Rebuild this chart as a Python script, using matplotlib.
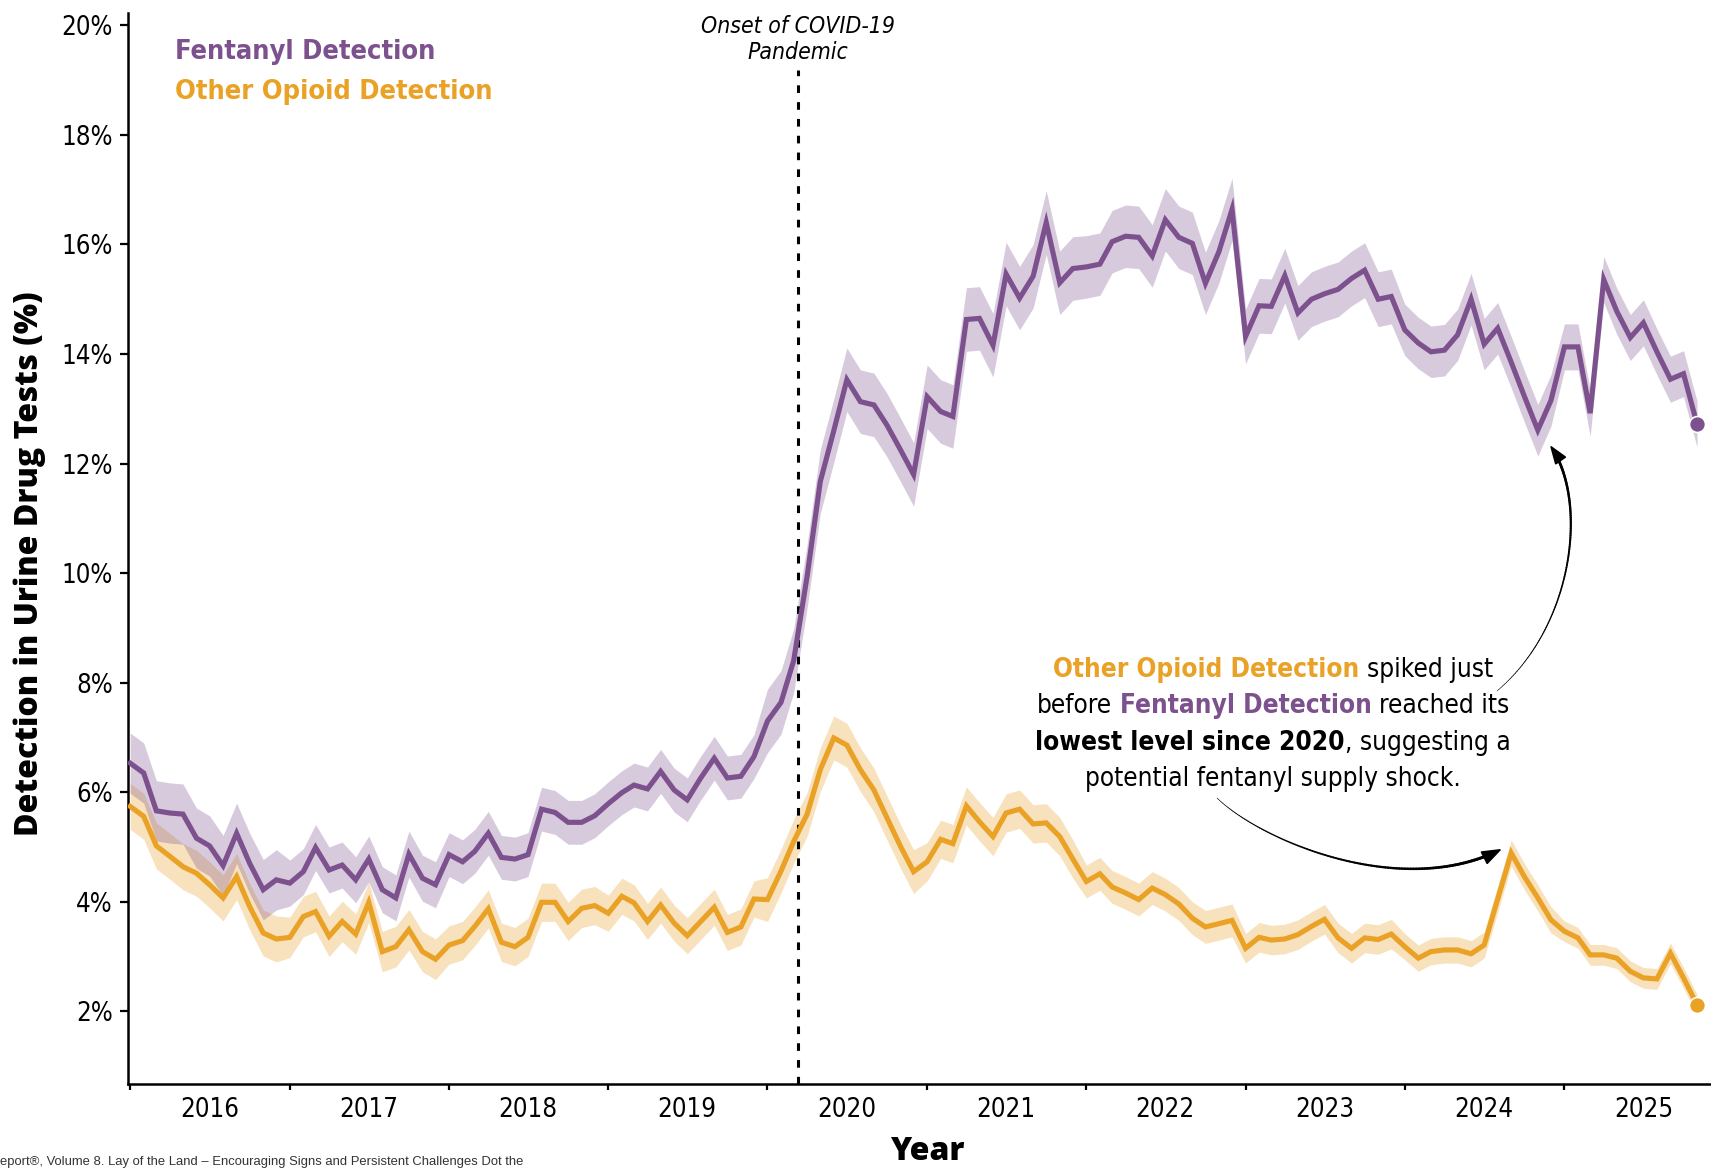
import numpy as np
import pandas as pd
import matplotlib
matplotlib.use('Agg')
import matplotlib.pyplot as plt
import matplotlib.dates as mdates
from matplotlib import font_manager as fm
from matplotlib.font_manager import FontProperties
from matplotlib.collections import LineCollection
from matplotlib.patches import Polygon

# monthly positivity, Jan 2016 onwards (%)
fentanyl = [
    6.53, 6.35, 5.66, 5.62, 5.60, 5.16, 5.02, 4.66, 5.25, 4.70, 4.22, 4.40,
    4.34, 4.55, 4.99, 4.58, 4.67, 4.40, 4.78, 4.22, 4.07, 4.87, 4.43, 4.31,
    4.86, 4.73, 4.92, 5.25, 4.81, 4.78, 4.86, 5.69, 5.63, 5.45, 5.45, 5.57,
    5.79, 5.99, 6.13, 6.06, 6.38, 6.04, 5.86, 6.26, 6.62, 6.26, 6.29, 6.65,
    7.30, 7.64, 8.40, 9.95, 11.67, 12.60, 13.53, 13.13, 13.07, 12.70, 12.25, 11.80,
    13.22, 12.95, 12.86, 14.63, 14.65, 14.16, 15.46, 15.02, 15.42, 16.40, 15.30, 15.56,
    15.59, 15.64, 16.05, 16.15, 16.13, 15.79, 16.45, 16.13, 16.02, 15.29, 15.87, 16.64,
    14.32, 14.88, 14.87, 15.43, 14.75, 15.00, 15.10, 15.18, 15.38, 15.53, 15.00, 15.05,
    14.44, 14.20, 14.04, 14.07, 14.35, 15.00, 14.18, 14.47, 13.85, 13.23, 12.61, 13.15,
    14.13, 14.13, 12.92, 15.36, 14.78, 14.30, 14.57, 14.04, 13.54, 13.64, 12.72,
]
other_opioid = [
    5.74, 5.56, 5.02, 4.83, 4.64, 4.52, 4.31, 4.07, 4.46, 3.91, 3.43, 3.32,
    3.35, 3.73, 3.82, 3.37, 3.64, 3.41, 3.99, 3.09, 3.18, 3.49, 3.09, 2.95,
    3.21, 3.29, 3.55, 3.87, 3.26, 3.18, 3.35, 3.99, 3.99, 3.64, 3.88, 3.93,
    3.79, 4.10, 3.98, 3.64, 3.94, 3.61, 3.38, 3.64, 3.90, 3.44, 3.54, 4.05,
    4.04, 4.56, 5.10, 5.60, 6.41, 6.99, 6.86, 6.41, 6.04, 5.53, 5.01, 4.55,
    4.73, 5.14, 5.06, 5.75, 5.46, 5.19, 5.62, 5.69, 5.42, 5.44, 5.19, 4.78,
    4.37, 4.51, 4.27, 4.16, 4.04, 4.25, 4.13, 3.96, 3.70, 3.54, 3.60, 3.66,
    3.15, 3.35, 3.30, 3.32, 3.40, 3.55, 3.68, 3.34, 3.15, 3.34, 3.31, 3.41,
    3.18, 2.97, 3.09, 3.12, 3.12, 3.05, 3.21, 4.05, 4.89, 4.46, 4.07, 3.67,
    3.46, 3.34, 3.03, 3.03, 2.97, 2.73, 2.61, 2.59, 3.06, 2.61, 2.12,
]
# half-width of the 95% band, one value per calendar year
fentanyl_ci = [0.55, 0.42, 0.40, 0.40, 0.58, 0.58, 0.57, 0.50, 0.47, 0.42]
other_ci = [0.42, 0.37, 0.35, 0.33, 0.40, 0.35, 0.30, 0.27, 0.24, 0.19]

years = list(range(2016, 2026))
y_ticks = [2, 4, 6, 8, 10, 12, 14, 16, 18, 20]

PURPLE = '#7D518E'
ORANGE = '#E9A126'
W, H = 1711, 1169


def weight_num(w):
    if isinstance(w, str):
        return fm.weight_dict.get(w, 400)
    return int(w)


narrow_pool = [f for f in fm.fontManager.ttflist
               if 'Narrow' in f.name or 'Condensed' in f.name
               or 'condensed' in str(f.stretch)]


def narrow_font(size, weight=400, style='normal'):
    for fam in ['Liberation Sans Narrow', 'DejaVu Sans', 'Noto Sans', 'Open Sans', 'Roboto']:
        pool = [f for f in narrow_pool if f.name.startswith(fam) and 'CJK' not in f.name]
        if not pool:
            continue
        styled = [f for f in pool if f.style == style] or pool
        best = min(styled, key=lambda f: abs(weight_num(f.weight) - weight))
        return FontProperties(fname=best.fname, size=size)
    return FontProperties(family='DejaVu Sans', size=size * 0.82,
                          weight=weight, style=style)


def heavy_font(size):
    return FontProperties(family=['Open Sans', 'Lato', 'DejaVu Sans'], weight=800, size=size)


def px(x, y):
    # pixel position measured from top-left -> figure fraction
    return x / W, 1 - y / H


dates = pd.date_range('2016-01-01', periods=len(fentanyl), freq='MS')
xd = mdates.date2num(dates)
fent = np.array(fentanyl)
oth = np.array(other_opioid)
fent_hw = np.repeat(fentanyl_ci, 12)[:len(fent)]
oth_hw = np.repeat(other_ci, 12)[:len(oth)]

fig = plt.figure(figsize=(W / 100, H / 100), dpi=100)
ax = fig.add_axes([128 / W, 1 - 1083.6 / H, 1 - 128 / W, (1083.6 - 13.3) / H])

ax.fill_between(xd, oth - oth_hw, oth + oth_hw, color=ORANGE, alpha=0.3, lw=0, zorder=1)
ax.fill_between(xd, fent - fent_hw, fent + fent_hw, color=PURPLE, alpha=0.3, lw=0, zorder=1)
ax.plot(xd, oth, color=ORANGE, lw=3.7, solid_joinstyle='miter', zorder=3)
ax.plot(xd, fent, color=PURPLE, lw=3.7, solid_joinstyle='miter', zorder=3)
ax.plot(xd[-1], oth[-1], 'o', ms=11.5, color=ORANGE, mec='white', mew=1.2, zorder=4)
ax.plot(xd[-1], fent[-1], 'o', ms=11.5, color=PURPLE, mec='white', mew=1.2, zorder=4)

ax.set_xlim(mdates.date2num(pd.Timestamp('2015-12-27')),
            mdates.date2num(pd.Timestamp('2025-12-03')))
ax.set_ylim(0.68, 20.22)

# COVID-19 onset marker
covid = mdates.date2num(pd.Timestamp('2020-03-11'))
ax.plot([covid, covid], [0.68, 19.18], color='black', lw=2.2,
        linestyle=(0, (2.5, 3.0)), zorder=2.5)

for side in ['top', 'right']:
    ax.spines[side].set_visible(False)
for side in ['left', 'bottom']:
    ax.spines[side].set_linewidth(1.8)

tick_font = narrow_font(18.5)
ax.set_yticks(y_ticks)
ax.set_yticklabels([f'{v}%' for v in y_ticks], fontproperties=tick_font)
ax.tick_params(axis='y', length=5.8, width=1.6, pad=5)

ax.set_xticks([mdates.date2num(pd.Timestamp(f'{y}-01-01')) for y in years])
ax.set_xticklabels([])
ax.set_xticks([mdates.date2num(pd.Timestamp(f'{y}-07-01')) for y in years], minor=True)
ax.set_xticklabels([str(y) for y in years], minor=True, fontproperties=tick_font)
ax.tick_params(axis='x', which='major', length=4.3, width=1.6)
ax.tick_params(axis='x', which='minor', length=0, pad=10)

fig.text(*px(29.5, 564), 'Detection in Urine Drug Tests (%)', rotation=90,
         ha='center', va='center', fontproperties=heavy_font(23))
fig.text(*px(927, 1160), 'Year', ha='center', va='baseline',
         fontproperties=heavy_font(23))

legend_font = narrow_font(19.5, weight=700)
fig.text(*px(175, 59.3), 'Fentanyl Detection', color=PURPLE, va='baseline',
         fontproperties=legend_font)
fig.text(*px(175, 99.3), 'Other Opioid Detection', color=ORANGE, va='baseline',
         fontproperties=legend_font)

covid_px = ax.transData.transform((covid, 1))[0]
italic_font = narrow_font(16.5, style='italic')
fig.text(*px(covid_px, 33.3), 'Onset of COVID-19', ha='center', va='baseline',
         fontproperties=italic_font)
fig.text(*px(covid_px, 59.3), 'Pandemic', ha='center', va='baseline',
         fontproperties=italic_font)

fig.text(*px(0, 1165), 'eport\u00ae, Volume 8. Lay of the Land \u2013 Encouraging Signs '
         'and Persistent Challenges Dot the', va='baseline', color='#333333',
         fontproperties=FontProperties(family=['Liberation Sans Narrow', 'Liberation Sans'],
                                       size=9.4))

# callout text with coloured / bold runs
renderer = fig.canvas.get_renderer()
reg = narrow_font(18.8)
bold = narrow_font(18.8, weight=700)


def text_width(s, fp):
    t = fig.text(0, 0, s, fontproperties=fp)
    w = t.get_window_extent(renderer).width
    t.remove()
    return w


space = text_width('a a', reg) - text_width('aa', reg)
callout = [
    (677.0, [('Other Opioid Detection', ORANGE, bold, False), ('spiked just', 'black', reg, True)]),
    (713.3, [('before', 'black', reg, False), ('Fentanyl Detection', PURPLE, bold, True),
             ('reached its', 'black', reg, True)]),
    (750.0, [('lowest level since 2020', 'black', bold, False),
             (', suggesting a', 'black', reg, False)]),
    (785.7, [('potential fentanyl supply shock.', 'black', reg, False)]),
]
cx = 1273
for base, parts in callout:
    widths = [text_width(s, fp) for s, _, fp, _ in parts]
    total = sum(widths) + space * sum(1 for p in parts if p[3])
    x = cx - total / 2
    for (s, c, fp, gap), w in zip(parts, widths):
        if gap:
            x += space
        fig.text(*px(x, base), s, color=c, va='baseline', fontproperties=fp)
        x += w


def tapered_arrow(p0, p1, p2, p3, w0, w1, head_len, head_w):
    t = np.linspace(0, 1, 120)[:, None]
    pts = ((1 - t) ** 3) * p0 + 3 * ((1 - t) ** 2) * t * p1 + 3 * (1 - t) * t ** 2 * p2 + t ** 3 * p3
    d = p3 - p2
    d = d / np.hypot(*d)
    keep = np.hypot(*(pts - p3).T) > head_len * 0.8
    pts = pts[keep]
    fpts = np.column_stack([pts[:, 0] / W, 1 - pts[:, 1] / H])
    segs = np.stack([fpts[:-1], fpts[1:]], axis=1)
    lc = LineCollection(segs, linewidths=np.linspace(w0, w1, len(segs)), colors='black',
                        capstyle='round', transform=fig.transFigure, zorder=6)
    fig.add_artist(lc)
    n = np.array([-d[1], d[0]])
    base = p3 - d * head_len
    tri = [p3, base + n * head_w / 2, base - n * head_w / 2]
    fig.add_artist(Polygon([px(*q) for q in tri], closed=True, color='black',
                           transform=fig.transFigure, zorder=6))


def data_px(x, y):
    dx, dy = ax.transData.transform((x, y))
    return np.array([dx, H - dy])


tip_a = data_px(xd[106] + 30, fent[106] - 0.3)
tapered_arrow(np.array([1497.0, 691.0]), np.array([1575.0, 625.0]),
              np.array([1588.0, 500.0]), tip_a, 0.4, 2.0, 17, 12)
tip_b = data_px(xd[104] - 25, oth[104] + 0.06)
tapered_arrow(np.array([1217.0, 798.0]), np.array([1260.0, 840.0]),
              np.array([1400.0, 900.0]), tip_b, 0.4, 2.2, 18, 13)

fig.savefig('out.png', dpi=100)
